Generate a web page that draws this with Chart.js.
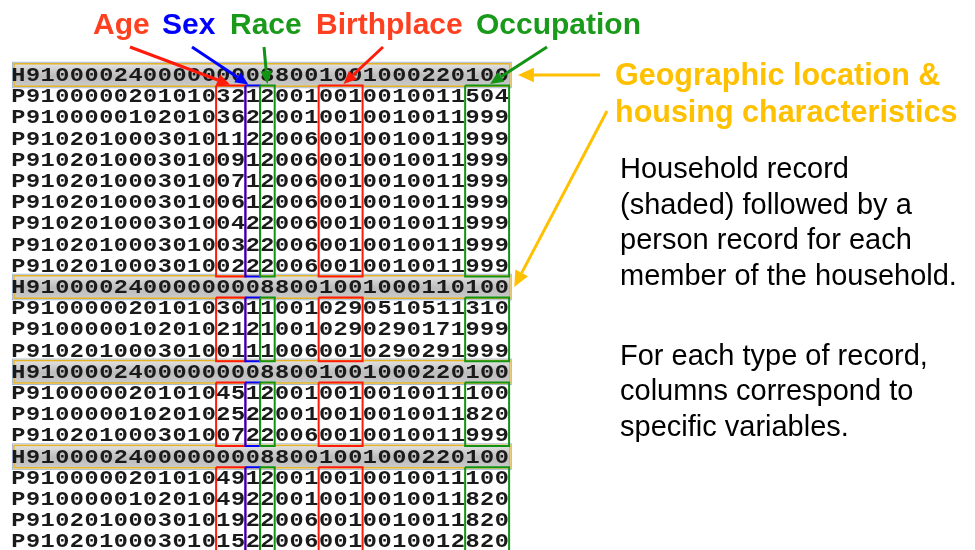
<!DOCTYPE html>
<html lang="en">
<head>
<meta charset="UTF-8">
<title>Census microdata record layout</title>
<script src="https://cdn.jsdelivr.net/npm/chart.js"></script>
<style>
  html, body { margin: 0; padding: 0; background: #fff; }
  #wrap { width: 975px; height: 550px; position: relative; }
</style>
</head>
<body>
<div id="wrap"><canvas id="chart"></canvas></div>
<script>
  // the raw records, one per row (H = household, P = person)
  const records = [
    'H910000240000000088001001000220100',
    'P910000020101032120010010010011504',
    'P910000010201036220010010010011999',
    'P910201000301011220060010010011999',
    'P910201000301009120060010010011999',
    'P910201000301007120060010010011999',
    'P910201000301006120060010010011999',
    'P910201000301004220060010010011999',
    'P910201000301003220060010010011999',
    'P910201000301002220060010010011999',
    'H910000240000000088001001000110100',
    'P910000020101030110010290510511310',
    'P910000010201021210010290290171999',
    'P910201000301001110060010290291999',
    'H910000240000000088001001000220100',
    'P910000020101045120010010010011100',
    'P910000010201025220010010010011820',
    'P910201000301007220060010010011999',
    'H910000240000000088001001000220100',
    'P910000020101049120010010010011100',
    'P910000010201049220010010010011820',
    'P910201000301019220060010010011820',
    'P910201000301015220060010010012820'
  ];

  // person-record variables: first column (0-based) and width in columns
  const fieldNames = ['Age', 'Sex', 'Race', 'Birthplace', 'Occupation'];
  const fieldStart = [14, 16, 17, 21, 31];
  const fieldLength = [2, 1, 1, 3, 3];

  const geoLabel = ['Geographic location &', 'housing characteristics'];
  const noteOne = ['Household record', '(shaded) followed by a', 'person record for each', 'member of the household.'];
  const noteTwo = ['For each type of record,', 'columns correspond to', 'specific variables.'];

  // ---- layout / styles ----
  const CHAR_W = 14.65, LEFT = 11, ROW_H = 21.2, TOP = 75, W = 975, H = 550;
  const boxColors = ['#ff1a0a', '#0000ff', '#139313', '#ff1a0a', '#139313'];
  const labelColors = ['#ff4020', '#0000ff', '#1a9a1a', '#ff4020', '#1a9a1a'];
  const gold = '#ffc000';
  const labelX = [93, 162, 230, 316, 476];
  const arrowFrom = [[130, 47], [192, 47], [264, 47], [383, 47], [547, 47]];     // px
  const arrowTip = [[14.95, 0.45], [16.2, 0.45], [17.5, 0.42], [22.7, 0.42], [32.7, 0.42]]; // column,row

  // person-record groups under each household record
  const groups = [];
  records.forEach((rec, r) => {
    if (rec[0] === 'H') groups.push({ first: r + 1, last: r });
    else groups[groups.length - 1].last = r;
  });

  const boxSets = [];
  groups.forEach(g => {
    fieldNames.forEach((name, i) => {
      const x0 = fieldStart[i], x1 = fieldStart[i] + fieldLength[i];
      const y0 = g.first - 0.5, y1 = g.last + 0.5;
      boxSets.push({
        label: name,
        data: [{x: x0, y: y0}, {x: x1, y: y0}, {x: x1, y: y1}, {x: x0, y: y1}, {x: x0, y: y0}],
        showLine: true, borderColor: boxColors[i], borderWidth: 2,
        pointRadius: 0, fill: false, tension: 0, clip: false,
        order: fieldNames.length - i   // later fields drawn on top
      });
    });
  });

  function arrow(ctx, x0, y0, x1, y1, color, width, head) {
    const a = Math.atan2(y1 - y0, x1 - x0);
    const bx = x1 - head * Math.cos(a), by = y1 - head * Math.sin(a);
    ctx.strokeStyle = color; ctx.lineWidth = width;
    ctx.beginPath(); ctx.moveTo(x0, y0); ctx.lineTo(bx, by); ctx.stroke();
    ctx.fillStyle = color;
    ctx.beginPath(); ctx.moveTo(x1, y1);
    ctx.lineTo(bx + head * 0.45 * Math.sin(a), by - head * 0.45 * Math.cos(a));
    ctx.lineTo(bx - head * 0.45 * Math.sin(a), by + head * 0.45 * Math.cos(a));
    ctx.closePath(); ctx.fill();
  }

  const recordPlugin = {
    id: 'records',
    beforeDatasetsDraw(chart) {
      const {ctx, scales: {x, y}} = chart;
      ctx.save();
      records.forEach((rec, r) => {
        const cy = y.getPixelForValue(r);
        if (rec[0] === 'H') {
          const top = y.getPixelForValue(r - 0.53), bot = y.getPixelForValue(r + 0.53);
          const l = x.getPixelForValue(0.2), rr = x.getPixelForValue(34.05);
          const grad = ctx.createLinearGradient(0, top, 0, bot);
          grad.addColorStop(0, '#e2e2e2');
          grad.addColorStop(0.55, '#bcbcbc');
          grad.addColorStop(1, '#cacaca');
          ctx.fillStyle = grad;
          ctx.fillRect(l, top, rr - l, bot - top);
          ctx.strokeStyle = '#a5b8d0'; ctx.lineWidth = 1;
          ctx.strokeRect(l - 1.5, top - 1.5, rr - l + 3, bot - top + 3);
          ctx.strokeStyle = '#e5b325'; ctx.lineWidth = 1.5;
          ctx.strokeRect(l, top, rr - l, bot - top);
        }
        // slightly squat, wide glyphs like the original typewriter face
        ctx.fillStyle = '#1a1a1a';
        ctx.font = 'bold 20px "Liberation Mono", monospace';
        ctx.textAlign = 'center';
        ctx.textBaseline = 'middle';
        for (let c = 0; c < rec.length; c++) {
          const px = x.getPixelForValue(c + 0.5);
          ctx.save();
          ctx.translate(px, cy + 1);
          ctx.scale(1.18, 1);
          ctx.fillText(rec[c], 0, 0);
          ctx.restore();
        }
      });
      ctx.restore();
    },
    afterDraw(chart) {
      const {ctx, scales: {x, y}} = chart;
      ctx.save();
      ctx.textAlign = 'left';
      ctx.textBaseline = 'alphabetic';
      // variable labels with arrows
      ctx.font = 'bold 30px "Liberation Sans", Arial, sans-serif';
      fieldNames.forEach((name, i) => {
        ctx.fillStyle = labelColors[i];
        ctx.fillText(name, labelX[i], 34);
        arrow(ctx, arrowFrom[i][0], arrowFrom[i][1],
          x.getPixelForValue(arrowTip[i][0]), y.getPixelForValue(arrowTip[i][1]),
          boxColors[i], 3, 13);
      });
      // household annotation
      ctx.fillStyle = gold;
      ctx.font = 'bold 30.5px "Liberation Sans", Arial, sans-serif';
      ctx.fillText(geoLabel[0], 615, 85);
      ctx.fillText(geoLabel[1], 615, 122);
      arrow(ctx, 600, 75, x.getPixelForValue(34.6), y.getPixelForValue(0), gold, 3, 16);
      arrow(ctx, 607, 111, x.getPixelForValue(34.35), y.getPixelForValue(10.0), gold, 3, 16);
      // notes
      ctx.fillStyle = '#000';
      ctx.font = '29px "Liberation Sans", Arial, sans-serif';
      noteOne.forEach((t, i) => ctx.fillText(t, 620, 178 + i * 35.6));
      noteTwo.forEach((t, i) => ctx.fillText(t, 620, 365 + i * 35.3));
      ctx.restore();
    }
  };

  new Chart(document.getElementById('chart'), {
    type: 'scatter',
    data: { datasets: boxSets },
    options: {
      responsive: true,
      maintainAspectRatio: false,
      animation: false,
      layout: { padding: 0 },
      plugins: { legend: { display: false }, tooltip: { enabled: false } },
      scales: {
        x: { type: 'linear', display: false, min: -LEFT / CHAR_W, max: (W - LEFT) / CHAR_W },
        y: { type: 'linear', display: false, reverse: true, min: -TOP / ROW_H, max: (H - TOP) / ROW_H }
      }
    },
    plugins: [recordPlugin]
  });
</script>
</body>
</html>
